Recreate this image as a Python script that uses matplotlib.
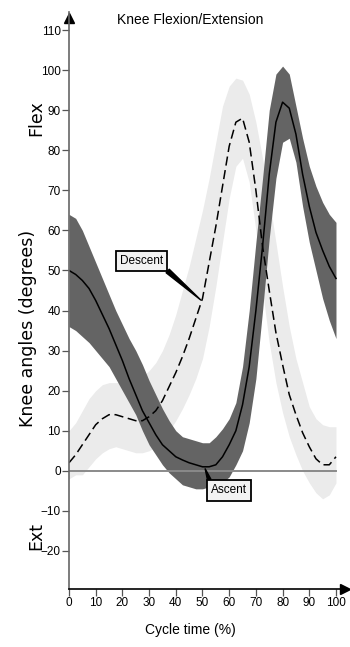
import matplotlib.pyplot as plt
import numpy as np

# cycle time (%) sampled every 2.5 %
cycle = np.arange(0, 100.1, 2.5)

# Ascent: mean and band (dark grey)
ascent_mean = [50, 49, 47.5, 45.5, 42.5, 39, 35.5, 31.5, 27.5, 23, 19, 15, 12, 9, 6.5,
               5, 3.5, 2.7, 2, 1.5, 1, 1, 1.5, 3.5, 6.5, 10, 16.5, 26, 40, 56, 74,
               87, 92, 90.5, 84, 74, 66, 59.5, 55, 51, 48]
ascent_upper = [64, 63, 60, 56, 52, 48, 44, 40, 36.5, 33, 30, 26.5, 22.5, 19, 15.5,
                12.5, 10, 8.5, 8, 7.5, 7, 7, 8.5, 10.5, 13, 17, 26, 40, 57, 73, 90,
                99, 101, 99, 91, 83, 76, 71, 67, 64, 62]
ascent_lower = [36, 35, 33.5, 32, 30, 28, 26, 23, 20, 17, 14, 10, 6.5, 4, 1.5,
                -0.5, -2, -3.5, -4, -4.5, -4.5, -4, -3.5, -3, -1.5, 1.5, 5, 12, 23,
                40, 58, 73, 82, 83, 77, 66, 57, 50, 43, 37.5, 33]

# Descent: mean and band (light grey)
descent_mean = [2, 4, 6.5, 9, 11.5, 13, 14, 14, 13.5, 13, 12.5, 12.5, 13.5, 15, 17.5,
                21, 24.5, 28.5, 33, 38, 43, 52, 61, 71, 81, 87, 88, 82, 70, 56, 45,
                34.5, 26.5, 19, 14, 9.5, 6, 3, 1.5, 1.5, 3.5]
descent_upper = [10, 12, 15, 18, 20, 21.5, 22, 22, 22, 22, 22.5, 23.5, 25, 27, 30,
                 34, 39, 45, 51, 58, 65, 73, 82, 91, 96, 98, 97.5, 94, 87, 78, 68,
                 57, 46, 36, 28, 22, 16, 13, 11.5, 11, 11]
descent_lower = [-2, -1, -1, 1, 3, 4.5, 5.5, 6, 5.5, 5, 4.5, 4.5, 5, 6, 7.5, 10,
                 12.5, 15.5, 19, 23, 28, 36, 46, 57, 68, 76, 78, 72, 60, 45, 32, 22,
                 14.5, 8.5, 4, 0, -3, -5.5, -7, -6, -3]

x_ticks = list(range(0, 101, 10))
y_ticks = list(range(-20, 111, 10))

plt.rcParams["font.family"] = ["Liberation Sans", "DejaVu Sans"]

fig = plt.figure(figsize=(3.5, 6.47), dpi=100)
ax = fig.add_axes([69 / 350, 1 - 589 / 647, 279 / 350, 577 / 647])

ax.fill_between(cycle, descent_lower, descent_upper, color="#ebebeb", lw=0)
ax.plot([0, 100], [0, 0], color="#8a8a8a", lw=1.4)
ax.fill_between(cycle, ascent_lower, ascent_upper, color="#646464", lw=0)
ax.plot(cycle, descent_mean, color="black", lw=1.1, ls=(0, (6, 3)))
ax.plot(cycle, ascent_mean, color="black", lw=1.1)

ax.set_xlim(0, 104.5)
ax.set_ylim(-29.5, 114.5)
ax.set_xticks(x_ticks)
ax.set_yticks(y_ticks)
ax.tick_params(axis="both", direction="out", length=5, width=0.9, pad=1,
               labelsize=8.5, color="#555555")
for s in ["top", "right"]:
    ax.spines[s].set_visible(False)
ax.spines["left"].set_color("#666666")
ax.spines["left"].set_linewidth(1.2)
ax.spines["bottom"].set_color("black")
ax.spines["bottom"].set_linewidth(1.2)

# arrow heads on the axes
ax.plot(0, 0.99, marker="^", color="black", markersize=7, transform=ax.transAxes, clip_on=False)
ax.plot(0.99, 0, marker=">", color="black", markersize=7, transform=ax.transAxes, clip_on=False)

box = dict(boxstyle="square,pad=0.35", fc="#f2f2f2", ec="black", lw=1.3)
ax.annotate("Descent", xy=(49.4, 42.6), xytext=(27.1, 52.4), fontsize=8.5,
            ha="center", va="center", bbox=box,
            arrowprops=dict(arrowstyle="wedge,tail_width=0.4", fc="black", ec="black",
                            relpos=(1.0, 0.0), shrinkA=0, shrinkB=0))
ax.annotate("Ascent", xy=(51, 0.5), xytext=(59.9, -4.9), fontsize=8.5,
            ha="center", va="center", bbox=box,
            arrowprops=dict(arrowstyle="wedge,tail_width=0.3", fc="black", ec="black",
                            relpos=(0.0, 1.0), shrinkA=0, shrinkB=0))

fig.text(0.543, 0.969, "Knee Flexion/Extension", ha="center", va="center", fontsize=10)
fig.text(0.543, 0.026, "Cycle time (%)", ha="center", va="center", fontsize=10)
fig.text(0.103, 0.818, "Flex", rotation=90, ha="center", va="center", fontsize=12.5,
         family="DejaVu Sans")
fig.text(0.08, 0.493, "Knee angles (degrees)", rotation=90, ha="center", va="center",
         fontsize=12.5, family="DejaVu Sans")
fig.text(0.103, 0.172, "Ext", rotation=90, ha="center", va="center", fontsize=12.5,
         family="DejaVu Sans")

fig.savefig("out.png", dpi=100)
